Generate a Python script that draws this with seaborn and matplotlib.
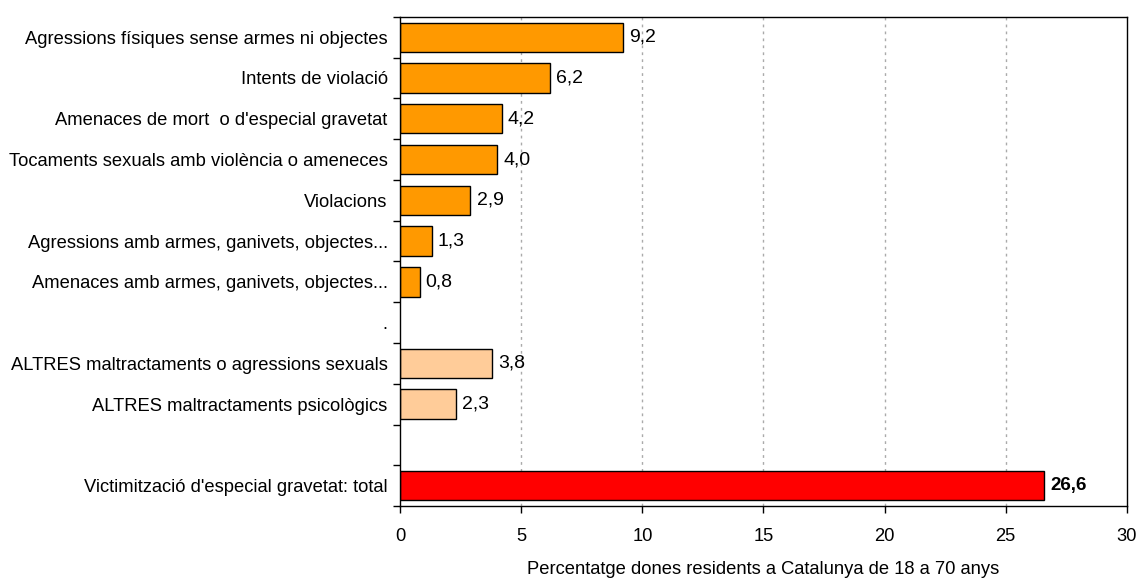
import numpy as np
import pandas as pd
import matplotlib
matplotlib.use('Agg')
import matplotlib.pyplot as plt
import seaborn as sns

# categories, top to bottom ('.' and '' are spacer rows in the original)
categories = [
    "Agressions físiques sense armes ni objectes",
    "Intents de violació",
    "Amenaces de mort  o d'especial gravetat",
    "Tocaments sexuals amb violència o ameneces",
    "Violacions",
    "Agressions amb armes, ganivets, objectes...",
    "Amenaces amb armes, ganivets, objectes...",
    ".",
    "ALTRES maltractaments o agressions sexuals",
    "ALTRES maltractaments psicològics",
    "",
    "Victimització d'especial gravetat: total",
]
values = [9.2, 6.2, 4.2, 4.0, 2.9, 1.3, 0.8, np.nan, 3.8, 2.3, np.nan, 26.6]
colors = ["#FF9900"] * 7 + ["#FFFFFF"] + ["#FFCC99"] * 2 + ["#FFFFFF"] + ["#FF0000"]

df = pd.DataFrame({'cat': categories, 'val': values})

sns.set_style('white')
plt.rcParams['font.family'] = ['Liberation Sans', 'DejaVu Sans']
plt.rcParams['text.color'] = 'black'
plt.rcParams['xtick.color'] = 'black'
plt.rcParams['ytick.color'] = 'black'
plt.rcParams['axes.labelcolor'] = 'black'

fig = plt.figure(figsize=(11.37, 5.81), dpi=100)
ax = fig.add_axes([0.352, 0.129, 0.639, 0.842])

sns.barplot(data=df, y='cat', x='val', hue='cat', order=categories,
            palette=dict(zip(categories, colors)), legend=False,
            orient='h', width=0.72, edgecolor='black', linewidth=1,
            saturation=1, ax=ax)

fs = 13.2
ax.set_xlim(0, 30)
ax.set_ylim(len(categories) - 0.5, -0.5)
ax.set_xticks(range(0, 31, 5))
ax.set_yticks(np.arange(len(categories) + 1) - 0.5, minor=True)
ax.set_yticks(range(len(categories)))
ax.set_yticklabels(categories, fontsize=fs)
ax.tick_params(axis='y', which='major', length=0, pad=9)
ax.tick_params(axis='y', which='minor', length=5, width=1, color='black', direction='out', left=True)
ax.tick_params(axis='x', length=5, width=1, color='black', direction='out', bottom=True, labelsize=fs, pad=11)
ax.set_xlabel('Percentatge dones residents a Catalunya de 18 a 70 anys', fontsize=fs, labelpad=11)
ax.set_ylabel('')

ax.set_axisbelow(True)
for x in range(5, 30, 5):
    ax.axvline(x, color='#aaaaaa', linestyle=(0, (2, 3)), linewidth=1, zorder=0)

for sp in ax.spines.values():
    sp.set_visible(True)
    sp.set_color('black')
    sp.set_linewidth(1)

for i, v in enumerate(values):
    if np.isnan(v):
        continue
    bold = i == len(values) - 1
    ax.text(v + 0.25, i, f"{v:.1f}".replace('.', ','), va='center', ha='left',
            fontsize=14 if not bold else 13.5, fontweight='bold' if bold else 'normal')

fig.savefig('out.png', dpi=100)
